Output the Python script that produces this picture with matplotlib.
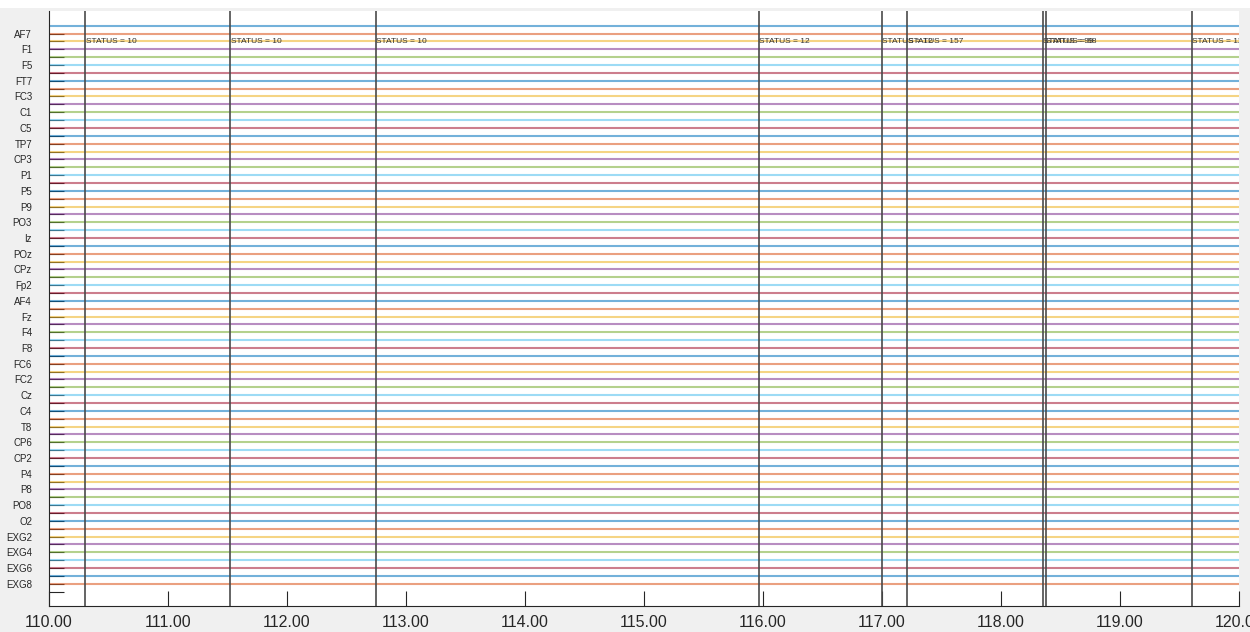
import matplotlib
matplotlib.use("Agg")
import matplotlib.pyplot as plt
from matplotlib.patches import Rectangle
import numpy as np

plt.rcParams['font.family'] = ['Liberation Sans', 'DejaVu Sans']

channels = ["Fp1", "AF7", "AF3", "F1", "F3", "F5", "F7", "FT7", "FC5", "FC3", "FC1", "C1",
            "C3", "C5", "T7", "TP7", "CP5", "CP3", "CP1", "P1", "P3", "P5", "P7", "P9",
            "PO7", "PO3", "O1", "Iz", "Oz", "POz", "Pz", "CPz", "Fpz", "Fp2", "AF8", "AF4",
            "AFz", "Fz", "F2", "F4", "F6", "F8", "FT8", "FC6", "FC4", "FC2", "FCz", "Cz",
            "C2", "C4", "C6", "T8", "TP8", "CP6", "CP4", "CP2", "P2", "P4", "P6", "P8",
            "P10", "PO8", "PO4", "O2", "EXG1", "EXG2", "EXG3", "EXG4", "EXG5", "EXG6",
            "EXG7", "EXG8"]
times = [110.0, 120.0]
signal = [0.0, 0.0]  # flat traces

event_times = [110.308, 111.526, 112.748, 115.969, 117.0, 117.215, 118.353, 118.381, 119.605]
event_labels = ["STATUS = 10", "STATUS = 10", "STATUS = 10", "STATUS = 12", "STATUS = 12",
                "STATUS = 157", "STATUS = 99", "STATUS = 98", "STATUS = 11"]
xtick_vals = [110, 111, 112, 113, 114, 115, 116, 117, 118, 119, 120]

colors = ["#0072BD", "#D95319", "#EDB120", "#7E2F8E", "#77AC30", "#4DBEEE", "#A2142F"]

fig = plt.figure(figsize=(12.5, 6.32), dpi=100, facecolor="#f0f0f0")
fig.patches.append(Rectangle((0, 1 - 8 / 632), 1, 8 / 632, transform=fig.transFigure,
                             facecolor="white", edgecolor="none", zorder=-1))
ax = fig.add_axes([48.7 / 1250, (632 - 605.7) / 632, (1238.7 - 48.7) / 1250, (605.7 - 11) / 632])
ax.set_facecolor("white")

for i, ch in enumerate(channels):
    ax.plot(times, [i + s for s in signal], color=colors[i % 7], alpha=0.55, lw=1.5,
            solid_capstyle="butt", zorder=2)

for t, lab in zip(event_times, event_labels):
    ax.axvline(t, color="#4a4a4a", lw=1.2, zorder=3)
    ax.text(t + 0.003, 2, lab, fontsize=6.0, color="#333333", ha="left", va="center",
            clip_on=True, zorder=4)

ax.set_xlim(110, 120)
ax.set_ylim(73.8, -1.88)
yt = list(range(1, 73))
ax.set_yticks(yt)
ax.set_yticklabels([channels[i] if (i < len(channels) and i % 2 == 1) else "" for i in yt])
ax.set_xticks(xtick_vals)
ax.set_xticklabels([f"{v:.2f}" for v in xtick_vals])
ax.tick_params(axis="y", direction="in", length=10.5, width=0.8, color="#262626",
               labelsize=7, labelcolor="#262626", pad=12)
ax.tick_params(axis="x", direction="in", length=11, width=0.8, color="#262626",
               labelsize=11.5, labelcolor="#262626", pad=7)
for s in ["top", "right"]:
    ax.spines[s].set_visible(False)
for s in ["left", "bottom"]:
    ax.spines[s].set_color("#262626")
    ax.spines[s].set_linewidth(0.8)

fig.savefig("out.png", dpi=100, facecolor=fig.get_facecolor())
